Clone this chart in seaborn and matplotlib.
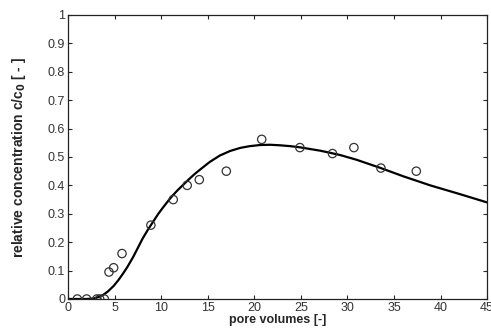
import matplotlib
matplotlib.use("Agg")
import matplotlib.pyplot as plt
import seaborn as sns
import pandas as pd

# measured data (pore volumes vs relative concentration)
obs_pv = [1.0, 2.0, 3.1, 3.4, 3.9, 4.4, 4.9, 5.8, 8.9, 11.3, 12.8, 14.1, 17.0,
          20.8, 24.9, 28.4, 30.7, 33.6, 37.4]
obs_c = [0.0, 0.0, 0.0, 0.0, 0.0, 0.095, 0.11, 0.16, 0.26, 0.35, 0.40, 0.42, 0.45,
         0.562, 0.533, 0.512, 0.533, 0.461, 0.45]

# model curve
model_pv = [0, 1, 2, 2.8, 3.3, 3.8, 4.3, 4.9, 5.4, 5.9, 6.4, 7.0, 7.5, 8.0, 8.6, 9.2,
            9.7, 10.2, 10.7, 11.2, 11.8, 12.4, 13.0, 13.6, 14.2, 15.2, 16.3, 17.4,
            18.5, 19.5, 20.6, 21.7, 22.8, 23.9, 24.9, 26.0, 27.1, 28.1, 29.2, 31.0,
            33.5, 36.0, 38.9, 42.0, 45.0]
model_c = [0, 0, 0, 0.002, 0.007, 0.015, 0.027, 0.046, 0.066, 0.089, 0.114, 0.148,
           0.18, 0.212, 0.245, 0.275, 0.3, 0.322, 0.343, 0.363, 0.384, 0.403, 0.422,
           0.44, 0.456, 0.482, 0.505, 0.521, 0.532, 0.538, 0.542, 0.543, 0.541,
           0.538, 0.534, 0.528, 0.522, 0.515, 0.507, 0.49, 0.462, 0.432, 0.40,
           0.37, 0.34]

xticks = [0, 5, 10, 15, 20, 25, 30, 35, 40, 45]
yticks = [0, 0.1, 0.2, 0.3, 0.4, 0.5, 0.6, 0.7, 0.8, 0.9, 1]
yticklabels = ["0", "0.1", "0.2", "0.3", "0.4", "0.5", "0.6", "0.7", "0.8", "0.9", "1"]

sns.set_style("ticks")
plt.rcParams["font.family"] = ["Liberation Sans", "DejaVu Sans"]
plt.rcParams["mathtext.default"] = "bf"

fig = plt.figure(figsize=(4.91, 3.32), dpi=100)
ax = fig.add_axes([0.1385, 0.0994, 0.8535, 0.8556])

df_model = pd.DataFrame({"pv": model_pv, "c": model_c})
df_obs = pd.DataFrame({"pv": obs_pv, "c": obs_c})

sns.lineplot(data=df_model, x="pv", y="c", ax=ax, color="black", linewidth=1.6,
             sort=False, zorder=2)
sns.scatterplot(data=df_obs, x="pv", y="c", ax=ax, marker="o", s=36,
                facecolors="none", edgecolor="#333333", linewidth=0.9, zorder=3)

ax.set_xlim(0, 45)
ax.set_ylim(0, 1)
ax.set_xticks(xticks)
ax.set_yticks(yticks)
ax.set_yticklabels(yticklabels)
ax.tick_params(direction="in", top=True, right=True, length=3, width=0.8,
               labelsize=9, labelcolor="#333333", pad=2)
for s in ax.spines.values():
    s.set_linewidth(0.9)
    s.set_color("#222222")

ax.set_xlabel("pore volumes [-]", fontsize=9, fontweight="bold", labelpad=0)
ax.set_ylabel("relative concentration c/c$_0$ [ - ]", fontsize=10, fontweight="bold",
              labelpad=14)

fig.savefig("out.png", dpi=100)
